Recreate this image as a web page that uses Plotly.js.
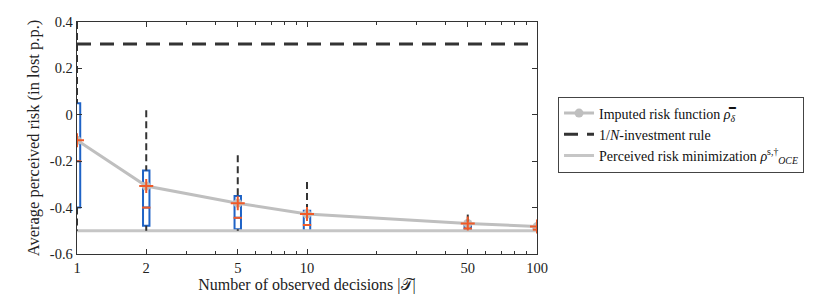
<!DOCTYPE html>
<html>
<head>
<meta charset="utf-8">
<script src="https://cdn.plot.ly/plotly-3.0.1.min.js"></script>
<style>html,body{margin:0;padding:0;background:#fff;}#chart{width:830px;height:294px;}</style>
</head>
<body>
<div id="chart"></div>
<script>
const nObs = [1, 2, 5, 10, 50, 100];
const meanRisk = [-0.11, -0.307, -0.381, -0.428, -0.468, -0.482];
const q1 = [-0.40, -0.478, -0.493, -0.50, -0.50, -0.50];
const medianRisk = [-0.20, -0.40, -0.444, -0.475, -0.49, -0.495];
const q3 = [0.05, -0.24, -0.35, -0.414, -0.47, -0.48];
const upperWhisker = [0.40, 0.02, -0.174, -0.29, -0.43, -0.46];
const lowerWhisker = [-0.50, -0.50, -0.50, -0.50, -0.50, -0.50];
const oneOverN = 0.305;
const oceMin = -0.5;
const xTicks = [1, 2, 5, 10, 50, 100];
const xMinor = [3, 4, 6, 7, 8, 9, 20, 30, 40, 60, 70, 80, 90];
const yTicks = [-0.6, -0.4, -0.2, 0, 0.2, 0.4];

const FONT = 'Liberation Serif';

// whisker segments
const wx = [], wy = [];
nObs.forEach((x, i) => {
  wx.push(x, x, null, x, x, null);
  wy.push(upperWhisker[i], q3[i], null, q1[i], lowerWhisker[i], null);
});

const traces = [
  {
    x: [nObs[0], nObs[nObs.length - 1]], y: [oceMin, oceMin],
    mode: 'lines', name: 'Perceived risk minimization <i>ρ</i><sup>s,†</sup><sub><i>OCE</i></sub>',
    line: {color: '#c6c6c6', width: 3}, legendrank: 3
  },
  {
    x: [nObs[0], nObs[nObs.length - 1]], y: [oneOverN, oneOverN],
    mode: 'lines', name: '1/<i>N</i>-investment rule',
    line: {color: '#333333', width: 3, dash: '14px,9px'}, legendrank: 2
  },
  {
    x: nObs, y: meanRisk, mode: 'lines+markers',
    name: 'Imputed risk function <i>ρ̿</i><sub><i>δ</i></sub>',
    line: {color: '#bfbfbf', width: 3},
    marker: {color: '#bfbfbf', size: 9, symbol: 'circle'}, legendrank: 1
  },
  {
    x: wx, y: wy, mode: 'lines', showlegend: false, hoverinfo: 'skip',
    line: {color: '#333333', width: 2, dash: '7px,4px'}
  },
  {
    type: 'box', x: nObs, q1: q1, median: medianRisk, q3: q3,
    lowerfence: q1, upperfence: q3, showlegend: false,
    width: 0.028, fillcolor: 'rgba(0,0,0,0)',
    line: {color: '#1f63c6', width: 2}, whiskerwidth: 0
  },
  {
    x: nObs, y: medianRisk, mode: 'markers', showlegend: false,
    marker: {symbol: 'line-ew', size: 6, line: {color: '#f05a28', width: 2}}
  },
  {
    x: nObs, y: meanRisk, mode: 'markers', showlegend: false,
    marker: {symbol: 'cross-thin', size: 10, line: {color: '#f05a28', width: 2}}
  }
];

const layout = {
  width: 830, height: 294,
  margin: {l: 77, r: 293, t: 22, b: 40},
  paper_bgcolor: '#fff', plot_bgcolor: '#fff',
  font: {family: FONT, size: 13, color: '#222'},
  showlegend: true,
  legend: {
    x: 1.0457, y: 0.515, xanchor: 'left', yanchor: 'middle',
    bordercolor: '#444', borderwidth: 1, bgcolor: '#fff',
    font: {family: FONT, size: 14, color: '#111'},
    traceorder: 'normal', tracegroupgap: 0, itemwidth: 30
  },
  xaxis: {
    type: 'log', range: [0, 2], tickmode: 'array', tickvals: xTicks,
    ticktext: xTicks.map(String),
    ticks: 'inside', ticklen: 5, tickcolor: '#333', tickwidth: 1,
    minor: {tickmode: 'array', tickvals: xMinor, ticks: 'inside', ticklen: 3, tickcolor: '#333'},
    showline: true, linecolor: '#333', linewidth: 1.3, mirror: 'ticks',
    showgrid: false, zeroline: false,
    tickfont: {family: FONT, size: 14.5, color: '#222'},
    title: {text: 'Number of observed decisions |𝒯|', font: {family: FONT, size: 16, color: '#222'}, standoff: 3}
  },
  yaxis: {
    range: [-0.6, 0.4], tickmode: 'array', tickvals: yTicks,
    ticktext: yTicks.map(v => v === 0 ? '0' : String(v)),
    ticks: 'inside', ticklen: 5, tickcolor: '#333',
    showline: true, linecolor: '#333', linewidth: 1.3, mirror: 'ticks',
    showgrid: false, zeroline: false,
    tickfont: {family: FONT, size: 14.5, color: '#222'},
    title: {text: 'Average perceived risk (in lost p.p.)', font: {family: FONT, size: 16.5, color: '#222'}, standoff: 6}
  }
};

Plotly.newPlot('chart', traces, layout, {displayModeBar: false, staticPlot: true});
</script>
</body>
</html>
